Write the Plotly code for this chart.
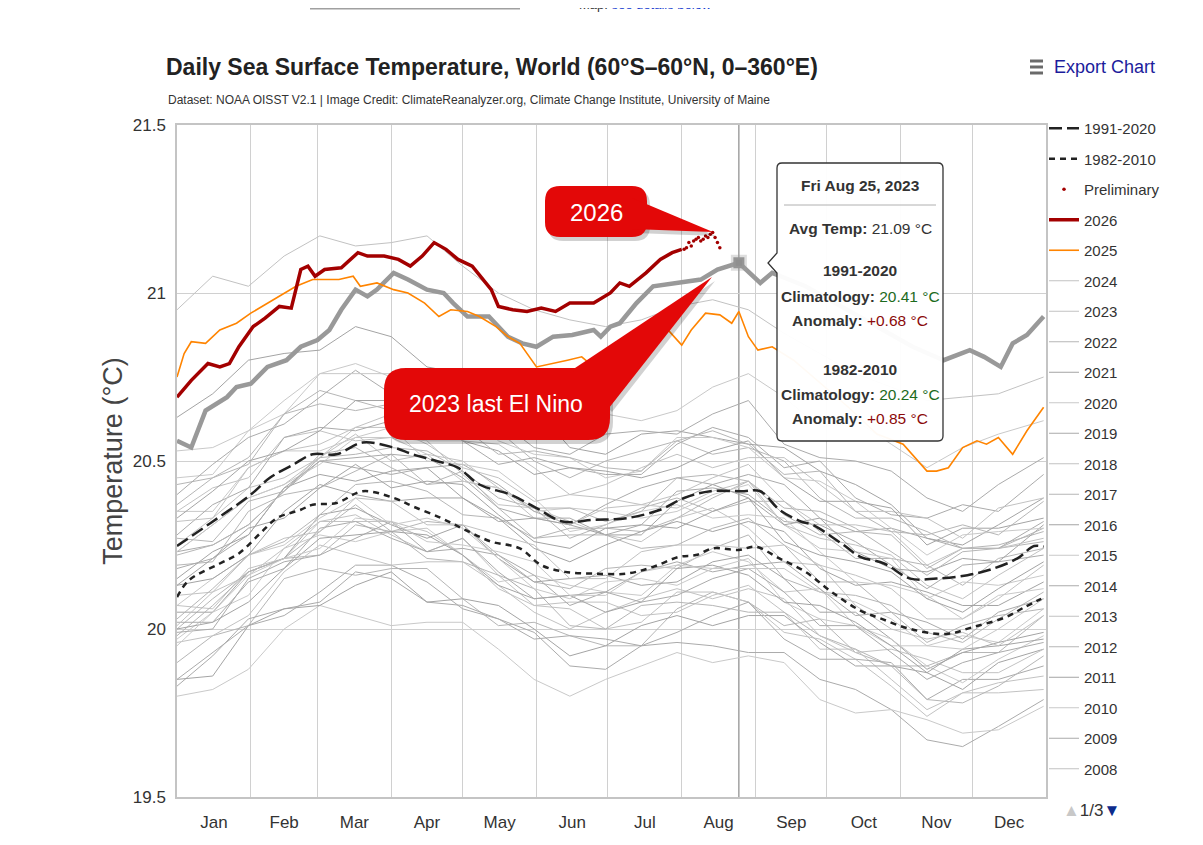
import numpy as np
import pandas as pd
import plotly.graph_objects as go

FONT = "Liberation Sans, Arial, sans-serif"

# day-of-year sample points used for the background years
sample_days = [1, 16, 31, 46, 61, 76, 91, 106, 121, 136, 151, 166, 181,
               196, 211, 226, 241, 256, 271, 286, 301, 316, 331, 346, 365]

y1982 = [19.90,19.98,20.01,20.15,20.18,20.16,20.18,20.18,20.09,20.01,20.02,19.98,19.95,19.95,20.06,20.11,20.08,20.01,20.03,19.93,19.89,19.89,19.93,19.93,20.04]
y1983 = [20.07,20.06,20.18,20.21,20.32,20.34,20.28,20.23,20.27,20.16,20.07,20.08,20.08,20.04,20.05,20.10,20.13,20.05,19.94,19.94,19.85,19.76,19.81,19.84,19.86]
y1984 = [19.83,19.92,20.03,20.06,20.08,20.17,20.15,20.08,20.07,20.03,19.99,19.89,19.88,19.95,19.96,19.95,19.93,19.93,19.85,19.82,19.76,19.67,19.65,19.71,19.79]
y1985 = [19.80,19.82,19.88,20.00,20.07,20.04,20.01,20.02,20.02,19.94,19.85,19.80,19.85,19.89,19.93,19.90,19.92,19.90,19.79,19.75,19.76,19.73,19.69,19.70,19.77]
y1986 = [19.85,19.86,20.01,20.06,20.07,20.13,20.17,20.08,20.09,20.07,20.00,19.92,19.95,20.01,20.04,20.01,20.04,20.04,19.96,19.89,19.89,19.87,19.82,19.90,19.94]
y1987 = [20.00,20.09,20.17,20.21,20.29,20.37,20.29,20.32,20.31,20.22,20.14,20.12,20.18,20.19,20.18,20.24,20.28,20.15,20.11,20.10,20.07,19.99,19.96,20.03,20.11]
y1988 = [20.10,20.11,20.16,20.24,20.32,20.32,20.32,20.29,20.22,20.12,20.07,20.06,20.00,20.02,20.11,20.11,20.08,19.99,19.97,19.91,19.83,19.74,19.81,19.81,19.82]
y1989 = [19.85,19.93,20.01,20.04,20.11,20.19,20.19,20.14,20.06,20.03,19.97,19.98,19.97,19.95,19.99,20.04,20.08,19.97,19.91,19.91,19.90,19.79,19.85,19.85,19.89]
y1990 = [19.97,20.05,20.10,20.24,20.28,20.26,20.29,20.30,20.22,20.14,20.16,20.13,20.11,20.10,20.19,20.23,20.20,20.11,20.12,20.01,19.95,19.95,19.98,19.96,20.06]
y1991 = [20.05,20.05,20.17,20.21,20.34,20.36,20.31,20.27,20.31,20.21,20.14,20.15,20.16,20.13,20.14,20.20,20.22,20.15,20.05,20.05,19.97,19.88,19.93,19.96,19.99]
y1992 = [19.98,20.07,20.17,20.21,20.22,20.31,20.29,20.21,20.20,20.16,20.12,20.01,20.00,20.07,20.08,20.07,20.05,20.05,19.98,19.94,19.89,19.79,19.78,19.83,19.92]
y1993 = [19.96,19.98,20.04,20.17,20.25,20.22,20.19,20.20,20.20,20.13,20.05,20.00,20.05,20.09,20.12,20.09,20.12,20.09,19.98,19.93,19.94,19.91,19.87,19.87,19.94]
y1994 = [19.99,20.00,20.15,20.20,20.22,20.27,20.32,20.23,20.24,20.22,20.16,20.07,20.11,20.17,20.20,20.17,20.19,20.20,20.12,20.04,20.05,20.02,19.97,20.05,20.09]
y1995 = [20.07,20.15,20.22,20.25,20.33,20.39,20.31,20.33,20.30,20.21,20.12,20.09,20.14,20.15,20.13,20.18,20.21,20.08,20.03,20.01,19.97,19.89,19.84,19.91,19.98]
y1996 = [20.00,20.02,20.08,20.18,20.27,20.28,20.29,20.28,20.22,20.13,20.09,20.10,20.05,20.08,20.18,20.19,20.16,20.08,20.07,20.02,19.95,19.87,19.94,19.95,19.97]
y1997 = [20.03,20.12,20.22,20.26,20.34,20.43,20.44,20.41,20.34,20.33,20.27,20.30,20.30,20.29,20.33,20.39,20.44,20.34,20.28,20.29,20.28,20.18,20.24,20.25,20.29]
y1998 = [20.35,20.42,20.45,20.57,20.59,20.56,20.57,20.56,20.46,20.37,20.36,20.32,20.28,20.26,20.33,20.36,20.30,20.20,20.19,20.07,20.00,19.97,19.99,19.95,20.04]
y1999 = [20.02,20.02,20.14,20.18,20.30,20.32,20.27,20.23,20.27,20.17,20.09,20.10,20.11,20.08,20.10,20.15,20.18,20.11,20.01,20.01,19.93,19.85,19.90,19.93,19.96]
y2000 = [19.95,20.05,20.16,20.21,20.24,20.33,20.32,20.26,20.25,20.23,20.20,20.10,20.10,20.17,20.19,20.18,20.18,20.18,20.11,20.08,20.03,19.95,19.94,20.00,20.09]
y2001 = [20.13,20.15,20.22,20.35,20.43,20.40,20.38,20.39,20.39,20.33,20.24,20.20,20.25,20.29,20.32,20.29,20.32,20.29,20.18,20.13,20.14,20.11,20.07,20.07,20.14]
y2002 = [20.19,20.20,20.35,20.40,20.42,20.47,20.52,20.43,20.44,20.42,20.36,20.27,20.31,20.36,20.39,20.35,20.38,20.38,20.29,20.21,20.21,20.19,20.13,20.21,20.24]
y2003 = [20.23,20.31,20.39,20.43,20.51,20.58,20.50,20.52,20.50,20.42,20.33,20.31,20.36,20.37,20.36,20.41,20.44,20.31,20.27,20.25,20.22,20.13,20.09,20.16,20.24]
y2004 = [20.23,20.25,20.31,20.41,20.50,20.51,20.52,20.51,20.45,20.36,20.33,20.33,20.28,20.31,20.41,20.42,20.40,20.32,20.31,20.26,20.19,20.12,20.19,20.20,20.22]
y2005 = [20.23,20.31,20.39,20.43,20.49,20.57,20.57,20.52,20.44,20.42,20.35,20.36,20.35,20.33,20.35,20.40,20.43,20.31,20.24,20.23,20.21,20.09,20.14,20.13,20.16]
y2006 = [20.15,20.23,20.28,20.42,20.46,20.44,20.47,20.48,20.39,20.32,20.33,20.31,20.28,20.28,20.38,20.43,20.39,20.31,20.33,20.23,20.18,20.17,20.21,20.20,20.31]
y2007 = [20.27,20.26,20.38,20.41,20.52,20.54,20.48,20.43,20.47,20.36,20.27,20.28,20.28,20.24,20.25,20.30,20.33,20.25,20.14,20.14,20.05,19.96,20.01,20.04,20.06]
y2008 = [20.01,20.11,20.22,20.27,20.29,20.39,20.38,20.31,20.31,20.28,20.25,20.15,20.15,20.23,20.25,20.25,20.24,20.25,20.19,20.16,20.12,20.03,20.03,20.09,20.19]
y2009 = [20.18,20.21,20.28,20.42,20.50,20.48,20.46,20.48,20.49,20.43,20.35,20.31,20.37,20.42,20.45,20.43,20.46,20.43,20.33,20.29,20.30,20.27,20.24,20.24,20.32]
y2010 = [20.35,20.35,20.48,20.53,20.53,20.57,20.60,20.50,20.49,20.47,20.39,20.29,20.31,20.35,20.37,20.33,20.34,20.33,20.23,20.14,20.13,20.10,20.03,20.10,20.12]
y2011 = [20.13,20.21,20.30,20.33,20.42,20.49,20.42,20.44,20.43,20.34,20.26,20.24,20.30,20.31,20.30,20.35,20.39,20.26,20.22,20.20,20.17,20.09,20.05,20.12,20.20]
y2012 = [20.22,20.25,20.31,20.41,20.51,20.52,20.54,20.53,20.47,20.39,20.36,20.36,20.32,20.35,20.45,20.46,20.44,20.36,20.35,20.30,20.23,20.16,20.23,20.24,20.26]
y2013 = [20.25,20.33,20.42,20.45,20.51,20.60,20.60,20.55,20.48,20.45,20.38,20.40,20.39,20.37,20.40,20.45,20.49,20.38,20.31,20.31,20.29,20.19,20.24,20.24,20.27]
y2014 = [20.28,20.37,20.42,20.57,20.60,20.59,20.62,20.64,20.56,20.49,20.51,20.48,20.46,20.46,20.55,20.60,20.57,20.48,20.50,20.39,20.34,20.33,20.37,20.35,20.46]
y2015 = [20.45,20.46,20.59,20.64,20.76,20.79,20.75,20.72,20.77,20.68,20.61,20.62,20.64,20.62,20.65,20.72,20.76,20.69,20.60,20.62,20.55,20.48,20.54,20.58,20.62]
y2016 = [20.63,20.70,20.80,20.82,20.83,20.90,20.87,20.78,20.76,20.71,20.66,20.54,20.52,20.58,20.59,20.57,20.55,20.54,20.47,20.43,20.37,20.27,20.25,20.31,20.39]
y2017 = [20.43,20.45,20.51,20.64,20.71,20.68,20.65,20.66,20.66,20.59,20.50,20.45,20.50,20.53,20.56,20.52,20.54,20.50,20.39,20.33,20.33,20.29,20.24,20.24,20.30]
y2018 = [20.32,20.33,20.48,20.53,20.55,20.60,20.64,20.56,20.56,20.55,20.48,20.40,20.43,20.48,20.52,20.48,20.51,20.51,20.43,20.35,20.35,20.33,20.27,20.36,20.39]
y2019 = [20.40,20.49,20.57,20.61,20.69,20.77,20.70,20.72,20.71,20.62,20.54,20.52,20.58,20.59,20.58,20.64,20.68,20.55,20.51,20.50,20.47,20.39,20.35,20.43,20.51]
y2020 = [20.53,20.54,20.59,20.68,20.76,20.76,20.76,20.73,20.66,20.56,20.52,20.51,20.45,20.47,20.57,20.57,20.54,20.45,20.44,20.38,20.30,20.22,20.28,20.29,20.30]
y2021 = [20.33,20.41,20.50,20.53,20.59,20.68,20.68,20.63,20.56,20.53,20.46,20.48,20.47,20.45,20.48,20.53,20.56,20.45,20.38,20.38,20.36,20.25,20.30,20.30,20.33]
y2022 = [20.37,20.45,20.49,20.64,20.67,20.65,20.67,20.69,20.60,20.52,20.53,20.51,20.48,20.47,20.56,20.59,20.55,20.46,20.47,20.35,20.29,20.28,20.31,20.28,20.38]
y2024 = [20.95,21.05,21.02,21.11,21.17,21.14,21.15,21.17,21.08,21.00,20.95,20.92,20.90,20.92,20.96,20.98,20.95,20.88,20.82,20.76,20.72,20.68,20.69,20.70,20.75]

gray_years = [1982, 1983, 1984, 1985, 1986, 1987, 1988, 1989, 1990, 1991, 1992,
              1993, 1994, 1995, 1996, 1997, 1998, 1999, 2000, 2001, 2002, 2003,
              2004, 2005, 2006, 2007, 2008, 2009, 2010, 2011, 2012, 2013, 2014,
              2015, 2016, 2017, 2018, 2019, 2020, 2021, 2022, 2024]
gray_series = [y1982, y1983, y1984, y1985, y1986, y1987, y1988, y1989, y1990,
               y1991, y1992, y1993, y1994, y1995, y1996, y1997, y1998, y1999,
               y2000, y2001, y2002, y2003, y2004, y2005, y2006, y2007, y2008,
               y2009, y2010, y2011, y2012, y2013, y2014, y2015, y2016, y2017,
               y2018, y2019, y2020, y2021, y2022, y2024]

clim_9120_days = [1, 15, 32, 40, 50, 58, 68, 79, 92, 100, 110, 119, 128, 141, 152, 163, 176, 190,
                  204, 214, 225, 238, 246, 254, 263, 268, 280, 288, 298, 309, 320, 333, 344, 354, 361, 365]
clim_9120 = [20.247, 20.315, 20.40, 20.45, 20.49, 20.52, 20.52, 20.555, 20.54, 20.52, 20.50, 20.48,
             20.43, 20.40, 20.36, 20.32, 20.325, 20.33, 20.355, 20.39, 20.41, 20.41, 20.41, 20.355,
             20.32, 20.31, 20.255, 20.215, 20.195, 20.15, 20.15, 20.16, 20.18, 20.21, 20.247, 20.245]

clim_8210_days = [1, 6, 19, 27, 36, 43, 53, 58, 68, 79, 92, 100, 112, 122, 133, 145, 154, 164, 176,
                  190, 201, 212, 219, 226, 237, 244, 254, 265, 276, 288, 297, 309, 324, 335, 349, 357, 364]
clim_8210 = [20.095, 20.145, 20.195, 20.225, 20.285, 20.33, 20.355, 20.37, 20.375, 20.41, 20.39,
             20.365, 20.33, 20.295, 20.26, 20.24, 20.19, 20.17, 20.165, 20.165, 20.185, 20.215,
             20.22, 20.24, 20.235, 20.245, 20.21, 20.17, 20.11, 20.055, 20.03, 20.00, 19.985,
             20.005, 20.035, 20.065, 20.09]

days_2023 = [1, 7, 13, 22, 26, 32, 39, 47, 53, 60, 65, 70, 76, 81, 85, 92, 98, 106, 113, 117,
             123, 132, 140, 146, 152, 159, 167, 176, 179, 183, 187, 194, 201, 211, 221, 228, 237,
             246, 251, 265, 280, 295, 310, 323, 334, 340, 347, 352, 358, 365]
sst_2023 = [20.56, 20.54, 20.65, 20.69, 20.72, 20.73, 20.78, 20.80, 20.84, 20.86, 20.89, 20.95,
            21.01, 20.99, 21.01, 21.06, 21.04, 21.01, 21.00, 20.97, 20.93, 20.93, 20.87, 20.85,
            20.84, 20.87, 20.875, 20.89, 20.87, 20.90, 20.91, 20.97, 21.02, 21.03, 21.04, 21.07,
            21.09, 21.03, 21.06, 21.02, 20.96, 20.90, 20.84, 20.80, 20.83, 20.81, 20.78, 20.85,
            20.875, 20.93]

days_2025 = [1, 4, 7, 13, 19, 26, 32, 39, 44, 51, 58, 64, 69, 75, 78, 85, 92, 98, 105, 111,
             116, 123, 128, 135, 140, 145, 152, 165, 171, 176, 183, 190, 198, 206, 213, 217, 223,
             229, 234, 237, 241, 245, 251, 260, 270, 283, 295, 306, 316, 320, 325, 331, 337, 341,
             346, 352, 358, 361, 365]
sst_2025 = [20.75, 20.82, 20.855, 20.85, 20.89, 20.91, 20.94, 20.97, 20.99, 21.02, 21.04, 21.04,
            21.04, 21.05, 21.02, 21.03, 21.01, 21.00, 20.97, 20.93, 20.95, 20.945, 20.93, 20.90,
            20.87, 20.85, 20.78, 20.80, 20.81, 20.78, 20.815, 20.84, 20.86, 20.90, 20.845, 20.89,
            20.94, 20.935, 20.91, 20.945, 20.87, 20.83, 20.84, 20.80, 20.74, 20.66, 20.58, 20.55,
            20.47, 20.47, 20.48, 20.54, 20.56, 20.55, 20.57, 20.52, 20.59, 20.62, 20.66]

days_2026 = [1, 7, 14, 19, 23, 27, 33, 38, 44, 49, 53, 56, 59, 63, 70, 77, 81, 88, 94, 99, 104,
             109, 114, 119, 125, 129, 133, 136, 142, 148, 154, 160, 166, 176, 183, 187, 191, 198,
             204, 209, 213]
sst_2026 = [20.69, 20.74, 20.79, 20.78, 20.79, 20.84, 20.90, 20.925, 20.96, 20.955, 21.07, 21.08,
            21.05, 21.07, 21.075, 21.12, 21.11, 21.11, 21.10, 21.08, 21.11, 21.15, 21.13, 21.10,
            21.08, 21.045, 21.01, 20.96, 20.95, 20.945, 20.955, 20.945, 20.97, 20.97, 21.00, 21.03,
            21.02, 21.06, 21.10, 21.12, 21.13]

prelim_days = [214, 215, 216, 217, 218, 219, 220, 221, 222, 223, 224, 225, 226, 227, 228, 229]
prelim_vals = [21.13, 21.135, 21.15, 21.14, 21.155, 21.16, 21.165, 21.155, 21.16, 21.17, 21.165,
               21.175, 21.18, 21.165, 21.15, 21.135]

# tooltip values (Fri Aug 25, 2023)
hover_day = 237
hover_temp = 21.09
hover_clim_9120 = 20.41
hover_clim_8210 = 20.24


def to_dates(days):
    return pd.Timestamp("2023-01-01") + pd.to_timedelta(np.array(days) - 1, unit="D")


# the page body has an 8px margin, so the figure is 16px smaller than the window
OFF = 8
FIG_W, FIG_H = 1203 - 2 * OFF, 845 - 2 * OFF
# plot-area box in window pixels
L, R, T, B = 177, 1046, 125, 797


def fx(p):
    return (p - L) / (R - L)


def fy(p):
    return (B - p) / (B - T)


def P(x, y):
    return f"{fx(x):.5f},{fy(y):.5f}"


def rounded_box(x0, y0, x1, y1, r, notch_y=None):
    left = f"L{P(x0, y0 + r)} "
    if notch_y is not None:
        left = f"L{P(x0, notch_y + 10)} L{P(x0 - 9, notch_y)} L{P(x0, notch_y - 10)} " + left
    return (f"M{P(x0 + r, y0)} L{P(x1 - r, y0)} Q{P(x1, y0)} {P(x1, y0 + r)} "
            f"L{P(x1, y1 - r)} Q{P(x1, y1)} {P(x1 - r, y1)} L{P(x0 + r, y1)} "
            f"Q{P(x0, y1)} {P(x0, y1 - r)} " + left + f"Q{P(x0, y0)} {P(x0 + r, y0)} Z")


def tri(a, b, c):
    return f"M{P(*a)} L{P(*b)} L{P(*c)} Z"


fig = go.Figure()

gray_colors = ["#b6b6b6", "#c2c2c2", "#ababab", "#c9c9c9", "#a4a4a4"]
for i, (yr, vals) in enumerate(zip(gray_years, gray_series)):
    fig.add_trace(go.Scatter(
        x=to_dates(sample_days), y=vals, mode="lines", name=str(yr),
        line=dict(color=gray_colors[i % len(gray_colors)], width=1),
        showlegend=yr >= 2008, legendgroup=f"g{yr}", legendrank=100 + (2024 - yr),
        hoverinfo="skip"))

# 2023 legend entry (thin, as in the legend)
fig.add_trace(go.Scatter(x=[None], y=[None], mode="lines", name="2023",
                         line=dict(color="#c2c2c2", width=1), legendgroup="g2023", legendrank=101))

fig.add_trace(go.Scatter(x=to_dates(clim_8210_days), y=clim_8210, mode="lines", name="1982-2010",
                         line=dict(color="#222", width=2.5, dash="6px,5px", shape="spline"),
                         legendgroup="gc2", legendrank=2, hoverinfo="skip"))
fig.add_trace(go.Scatter(x=to_dates(clim_9120_days), y=clim_9120, mode="lines", name="1991-2020",
                         line=dict(color="#222", width=2.5, dash="13px,5px", shape="spline"),
                         legendgroup="gc1", legendrank=1, hoverinfo="skip"))
fig.add_trace(go.Scatter(x=to_dates(days_2023), y=sst_2023, mode="lines", name="2023 ",
                         line=dict(color="#999999", width=4.5), showlegend=False, hoverinfo="skip"))
fig.add_trace(go.Scatter(x=to_dates(days_2025), y=sst_2025, mode="lines", name="2025",
                         line=dict(color="#ff8400", width=1.6), legendgroup="g2025", legendrank=5,
                         hoverinfo="skip"))
fig.add_trace(go.Scatter(x=to_dates(days_2026), y=sst_2026, mode="lines", name="2026",
                         line=dict(color="#a30000", width=3.5), legendgroup="g2026", legendrank=4,
                         hoverinfo="skip"))
fig.add_trace(go.Scatter(x=to_dates(prelim_days), y=prelim_vals, mode="markers", name="Preliminary",
                         marker=dict(color="#a30000", size=3.5), legendgroup="gp", legendrank=3,
                         hoverinfo="skip"))
fig.add_trace(go.Scatter(x=to_dates([hover_day]), y=[hover_temp], mode="markers", showlegend=False,
                         marker=dict(symbol="square", size=11, color="#8f8f8f",
                                     line=dict(color="rgba(160,160,160,0.35)", width=5)),
                         hoverinfo="skip"))

red = "#e30808"
shadow = "rgba(0,0,0,0.18)"
shapes = [
    # crosshair
    dict(type="line", xref="x", yref="paper", x0=to_dates([hover_day])[0], x1=to_dates([hover_day])[0],
         y0=0, y1=1, line=dict(color="#8a8a8a", width=1.2), layer="between"),
    # clipped bar at the very top of the page
    dict(type="line", xref="paper", yref="paper", x0=fx(310), x1=fx(520), y0=fy(OFF + 0.5), y1=fy(OFF + 0.5),
         line=dict(color="#a0a0a0", width=2)),
]
# callout shadows + bodies
for dx, dy, col in [(3, 4, shadow), (0, 0, red)]:
    shapes.append(dict(type="path", xref="paper", yref="paper", fillcolor=col, line=dict(width=0),
                       path=rounded_box(545 + dx, 186 + dy, 647 + dx, 237 + dy, 15)))
    shapes.append(dict(type="path", xref="paper", yref="paper", fillcolor=col, line=dict(width=0),
                       path=tri((632 + dx, 198 + dy), (713 + dx, 232 + dy), (632 + dx, 229 + dy))))
    shapes.append(dict(type="path", xref="paper", yref="paper", fillcolor=col, line=dict(width=0),
                       path=rounded_box(384 + dx, 368 + dy, 610 + dx, 440 + dy, 22)))
    shapes.append(dict(type="path", xref="paper", yref="paper", fillcolor=col, line=dict(width=0),
                       path=tri((572 + dx, 370 + dy), (712 + dx, 277 + dy), (609 + dx, 408 + dy))))
# tooltip
shapes.append(dict(type="path", xref="paper", yref="paper", fillcolor="rgba(255,255,255,0.96)",
                   line=dict(color="#333", width=1.3), path=rounded_box(777, 163, 943, 441, 5, notch_y=263)))
shapes.append(dict(type="line", xref="paper", yref="paper", x0=fx(784), x1=fx(936), y0=fy(205), y1=fy(205),
                   line=dict(color="#b0b0b0", width=1)))
# export-menu icon
for yy in (61, 67, 73):
    shapes.append(dict(type="line", xref="paper", yref="paper", x0=fx(1030), x1=fx(1043),
                       y0=fy(yy), y1=fy(yy), line=dict(color="#6a6a6a", width=3)))

green, dred, ink = "#1d6b1d", "#8b0a0a", "#333"
tip_lines = [
    (185, "<b>Fri Aug 25, 2023</b>"),
    (228, f"<b>Avg Temp:</b> {hover_temp:.2f} °C"),
    (270, "<b>1991-2020</b>"),
    (296, f"<b>Climatology:</b> <span style='color:{green}'>{hover_clim_9120:.2f} °C</span>"),
    (320, f"<b>Anomaly:</b> <span style='color:{dred}'>{hover_temp - hover_clim_9120:+.2f} °C</span>"),
    (369, "<b>1982-2010</b>"),
    (394, f"<b>Climatology:</b> <span style='color:{green}'>{hover_clim_8210:.2f} °C</span>"),
    (418, f"<b>Anomaly:</b> <span style='color:{dred}'>{hover_temp - hover_clim_8210:+.2f} °C</span>"),
]
annotations = []
for yy, txt in tip_lines:
    annotations.append(dict(xref="paper", yref="paper", x=fx(860), y=fy(yy), text=txt, showarrow=False,
                            xanchor="center", yanchor="middle",
                            font=dict(family=FONT, size=15.5, color=ink)))
annotations += [
    dict(xref="paper", yref="paper", x=fx(596), y=fy(212), text="2026", showarrow=False,
         xanchor="center", yanchor="middle", font=dict(family=FONT, size=24, color="white")),
    dict(xref="paper", yref="paper", x=fx(496), y=fy(404), text="2023 last El Nino", showarrow=False,
         xanchor="center", yanchor="middle", font=dict(family=FONT, size=23, color="white")),
    dict(xref="paper", yref="paper", x=fx(166), y=fy(100), xanchor="left", yanchor="middle", showarrow=False,
         text="Dataset: NOAA OISST V2.1 | Image Credit: ClimateReanalyzer.org, Climate Change Institute, University of Maine",
         font=dict(family=FONT, size=12, color="#333")),
    dict(xref="paper", yref="paper", x=fx(1052), y=fy(67), xanchor="left", yanchor="middle", showarrow=False,
         text="Export Chart", font=dict(family=FONT, size=18, color="#1c1c9c")),
    dict(xref="paper", yref="paper", x=fx(1061), y=fy(810), xanchor="left", yanchor="middle", showarrow=False,
         text="<span style='color:#c8c8c8'>▲</span>1/3<span style='color:#0d2b8c'>▼</span>",
         font=dict(family=FONT, size=17, color="#333")),
    dict(xref="paper", yref="paper", x=fx(577), y=fy(OFF - 3), xanchor="left", yanchor="middle", showarrow=False,
         text="Map: <span style='color:#1a3fd0'>see details below</span>",
         font=dict(family=FONT, size=13, color="#333")),
]

fig.update_layout(
    width=FIG_W, height=FIG_H,
    margin=dict(l=L - OFF, r=FIG_W - (R - OFF), t=T - OFF, b=FIG_H - (B - OFF), autoexpand=False),
    paper_bgcolor="white", plot_bgcolor="white",
    title=dict(text="Daily Sea Surface Temperature, World (60°S–60°N, 0–360°E)",
               xref="container", yref="container", x=(166 - OFF) / FIG_W, y=1 - (67 - OFF) / FIG_H,
               xanchor="left", yanchor="middle",
               font=dict(family=FONT, size=23, color="#222", weight="bold")),
    xaxis=dict(type="date", range=["2023-01-01", "2024-01-01"], dtick="M1", tick0="2023-01-01",
               tickformat="%b", ticklabelmode="period", showgrid=True, gridcolor="#d0d0d0",
               showline=True, mirror=True, linecolor="#c4c4c4", linewidth=1.5, zeroline=False,
               ticks="", ticklabelstandoff=9, tickfont=dict(family=FONT, size=17, color="#333")),
    yaxis=dict(range=[19.5, 21.5], dtick=0.5, tick0=19.5, showgrid=True, gridcolor="#d0d0d0",
               showline=True, mirror=True, linecolor="#c4c4c4", linewidth=1.5, zeroline=False,
               ticks="", ticklabelstandoff=6, tickfont=dict(family=FONT, size=17, color="#333"),
               title=dict(text="Temperature (°C)", standoff=2,
                          font=dict(family=FONT, size=27, color="#444"))),
    legend=dict(x=fx(1044), xanchor="left", y=fy(112), yanchor="top", tracegroupgap=8,
                maxheight=900, font=dict(family=FONT, size=15, color="#333"),
                bgcolor="rgba(0,0,0,0)", borderwidth=0),
    shapes=shapes,
    annotations=annotations,
    hovermode=False,
)

fig.write_html("out.html")
